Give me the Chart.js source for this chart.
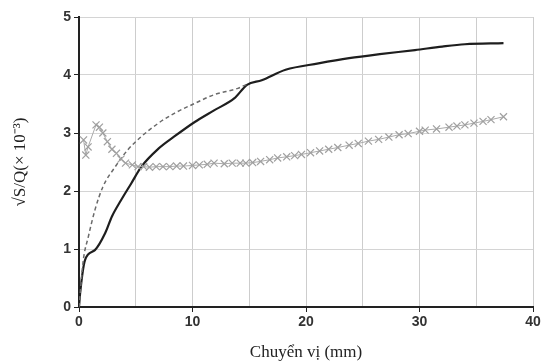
<!DOCTYPE html>
<html>
<head>
<meta charset="utf-8">
<script src="https://cdn.jsdelivr.net/npm/chart.js@4"></script>
<style>
  html, body { margin: 0; padding: 0; background: #fff; }
  #wrap { width: 544px; height: 363px; }
</style>
</head>
<body>
<div id="wrap"><canvas id="myChart" width="544" height="363"></canvas></div>
<script>
// solid curve
var solidX = [0, 0.1, 0.53, 1.4, 2.3, 2.9, 3.7, 4.6, 5.5, 7, 8.4, 10.2, 11.9, 13.7, 14.8, 16.1, 18.2, 21.1, 23.8, 26.5, 29.6, 32, 34, 37.4];
var solidY = [0, 0.24, 0.81, 0.98, 1.27, 1.56, 1.84, 2.13, 2.42, 2.73, 2.94, 3.19, 3.39, 3.6, 3.83, 3.91, 4.09, 4.2, 4.29, 4.36, 4.43, 4.49, 4.53, 4.55];

// dashed curve
var dashX = [0, 0.38, 0.82, 1.4, 2.1, 3.2, 4.3, 5.5, 7, 8.4, 10.2, 11.9, 14, 14.8];
var dashY = [0, 0.81, 1.21, 1.67, 2.07, 2.42, 2.71, 2.94, 3.17, 3.34, 3.51, 3.66, 3.77, 3.84];

// crosses
var crossX = [0.4, 0.6, 0.8, 1.5, 1.8, 2.1, 2.5, 2.9, 3.3, 3.7, 4.1, 4.7, 5.2, 5.7, 6.2, 6.8, 7.4, 8, 8.6, 9.2, 10, 10.6, 11.3, 11.9, 12.8, 13.5, 14.2, 14.7, 15.3, 16.0, 16.8, 17.5, 18.3, 19.0, 19.6, 20.4, 21.2, 22.0, 22.8, 23.8, 24.6, 25.5, 26.4, 27.3, 28.2, 29.0, 30.0, 30.5, 31.5, 32.6, 33.3, 34, 34.8, 35.6, 36.3, 37.4];
var crossY = [2.88, 2.62, 2.76, 3.14, 3.1, 3.0, 2.85, 2.72, 2.65, 2.55, 2.48, 2.45, 2.42, 2.42, 2.41, 2.42, 2.42, 2.42, 2.43, 2.43, 2.44, 2.45, 2.46, 2.48, 2.47, 2.48, 2.48, 2.48, 2.49, 2.51, 2.54, 2.57, 2.59, 2.61, 2.63, 2.66, 2.69, 2.72, 2.75, 2.79, 2.82, 2.86, 2.89, 2.93, 2.97, 2.99, 3.03, 3.05, 3.07, 3.1, 3.12, 3.14, 3.17, 3.2, 3.23, 3.28];

var xTicks = [0, 10, 20, 30, 40];
var yTicks = [0, 1, 2, 3, 4, 5];

function pts(xs, ys) {
  var out = [];
  for (var i in xs) {
    out.push({x: xs[i], y: ys[i]});
  }
  return out;
}

var chartdata = {
  datasets: [
    {
      data: pts(crossX, crossY),
      borderColor: '#ababab',
      borderWidth: 1,
      pointStyle: 'crossRot',
      pointRadius: 5,
      pointBorderColor: '#a0a0a0',
      pointBorderWidth: 1.2
    },
    {
      data: pts(dashX, dashY),
      borderColor: '#6a6a6a',
      borderWidth: 1.5,
      borderDash: [4, 3],
      pointRadius: 0,
      cubicInterpolationMode: 'monotone'
    },
    {
      data: pts(solidX, solidY),
      borderColor: '#1e1e1e',
      borderWidth: 2.2,
      pointRadius: 0,
      cubicInterpolationMode: 'monotone'
    }
  ]
};

var tickFont = {family: 'Arial, "Liberation Sans"', size: 14, weight: 'bold'};
var titleFont = {family: '"Liberation Serif", "Times New Roman"', size: 17};

var ctx = document.getElementById('myChart');
var lineGraph = new Chart(ctx, {
  type: 'line',
  data: chartdata,
  options: {
    responsive: false,
    animation: false,
    layout: {padding: {top: 17, right: 11, left: 10, bottom: 0}},
    plugins: {legend: {display: false}, tooltip: {enabled: false}},
    scales: {
      x: {
        type: 'linear',
        min: 0, max: 40,
        afterFit: function(s) { s.height = 56; },
        border: {color: '#222', width: 2},
        grid: {
          color: '#cdcdcd',
          lineWidth: 1,
          tickLength: 5,
          tickColor: function(c) { return c.tick && xTicks.indexOf(c.tick.value) >= 0 ? '#222' : 'rgba(0,0,0,0)'; }
        },
        ticks: {
          stepSize: 5,
          color: '#333',
          font: tickFont,
          padding: 2,
          maxRotation: 0,
          callback: function(v) { return xTicks.indexOf(v) >= 0 ? v : ''; }
        },
        title: {display: true, text: 'Chuyển vị (mm)', color: '#222', font: titleFont, padding: {top: 0, bottom: 0}}
      },
      y: {
        min: 0, max: 5,
        afterFit: function(s) { s.width = 69; },
        border: {color: '#222', width: 2},
        grid: {color: '#d4d4d4', tickLength: 5, tickColor: '#222'},
        ticks: {
          stepSize: 1,
          color: '#333',
          font: tickFont,
          padding: 3,
          callback: function(v) { return yTicks.indexOf(v) >= 0 ? v : ''; }
        },
        title: {display: true, text: '√S/Q(× 10⁻³)', color: '#222', font: titleFont, padding: {top: 0, bottom: 4}}
      }
    }
  }
});
</script>
</body>
</html>
